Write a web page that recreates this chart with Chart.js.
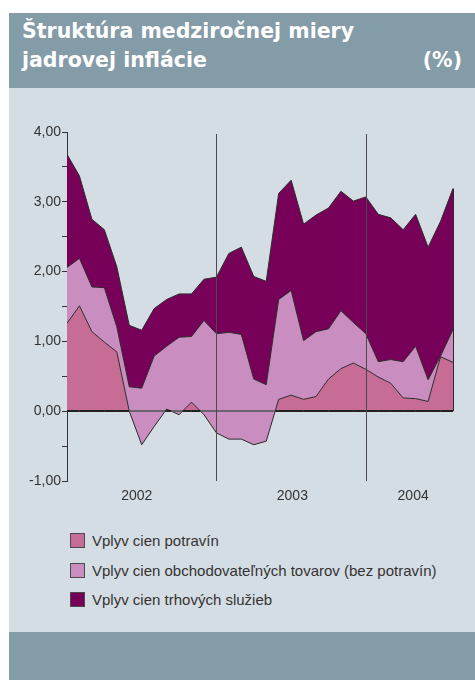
<!DOCTYPE html>
<html>
<head>
<meta charset="utf-8">
<script src="https://cdn.jsdelivr.net/npm/chart.js@4.4.1/dist/chart.umd.min.js"></script>
<style>
html, body { margin: 0; padding: 0; background: #fff; }
#wrap { position: relative; width: 475px; height: 680px; overflow: hidden; }
#head { position: absolute; left: 9px; top: 13px; width: 466px; height: 75px; background: #849BA8; }
#panel { position: absolute; left: 9px; top: 88px; width: 466px; height: 544px; background: #D5DDE4; }
#foot { position: absolute; left: 9px; top: 632px; width: 466px; height: 48px; background: #849BA8; }
.t { position: absolute; color: #fff; font: bold 20.5px "DejaVu Sans"; white-space: nowrap; line-height: 1; }
#box { position: absolute; left: 0; top: 100px; width: 475px; height: 420px; }
.leg { position: absolute; left: 70px; height: 16px; display: flex; align-items: center; font: 15px "Liberation Sans"; color: #333; white-space: nowrap; }
.leg span { display: inline-block; width: 13px; height: 13px; border: 1px solid #4a4a4a; margin-right: 7px; }
</style>
</head>
<body>
<div id="wrap">
  <div id="head"></div>
  <div id="panel"></div>
  <div id="foot"></div>
  <div class="t" style="left:22px;top:21px">Štruktúra medziročnej miery</div>
  <div class="t" style="left:22px;top:50px">jadrovej inflácie</div>
  <div class="t" style="right:13px;top:50px">(%)</div>
  <div id="box"><canvas id="chart" width="475" height="420"></canvas></div>
  <div id="legend"></div>
</div>
<script>
// mesačne 1/2002 - 8/2004
const potraviny = [1.26, 1.51, 1.14, 0.99, 0.85, 0.00, -0.48, -0.22, 0.03, -0.05, 0.13, -0.05,
                   -0.31, -0.40, -0.40, -0.48, -0.43, 0.17, 0.23, 0.17, 0.21, 0.46, 0.61, 0.69,
                   0.60, 0.49, 0.40, 0.19, 0.18, 0.14, 0.78, 0.70];
const obchodovatelne = [0.80, 0.68, 0.64, 0.78, 0.36, 0.35, 0.81, 1.01, 0.90, 1.11, 0.94, 1.35,
                        1.42, 1.53, 1.50, 0.94, 0.81, 1.43, 1.50, 0.84, 0.93, 0.72, 0.83, 0.58,
                        0.51, 0.22, 0.34, 0.52, 0.75, 0.31, 0.01, 0.47];
const sluzby = [1.62, 1.18, 0.97, 0.83, 0.86, 0.88, 0.83, 0.68, 0.67, 0.62, 0.61, 0.59,
                0.81, 1.13, 1.25, 1.47, 1.48, 1.52, 1.58, 1.67, 1.67, 1.73, 1.71, 1.74,
                1.96, 2.11, 2.03, 1.89, 1.89, 1.90, 1.93, 2.02];
const seriesNames = ['Vplyv cien potravín', 'Vplyv cien obchodovateľných tovarov (bez potravín)', 'Vplyv cien trhových služieb'];
const seriesColors = ['#C76C94', '#C98DBF', '#770058'];
const yearLabels = ['2002', '2003', '2004'];
const yearTickPos = [5.6, 18.1, 27.8];
const yearBreaks = [12, 24];

const n = potraviny.length;

// kumulativne hodnoty (ako v Exceli - zaporne hodnoty sa scitavaju tiez)
const lvl1 = potraviny.slice();
const lvl2 = lvl1.map((v, i) => v + obchodovatelne[i]);
const lvl3 = lvl2.map((v, i) => v + sluzby[i]);
const pts = arr => arr.map((v, i) => ({ x: i, y: v }));

// legenda
const legend = document.getElementById('legend');
const legTops = [532, 562, 591];
seriesNames.forEach((name, i) => {
    const row = document.createElement('div');
    row.className = 'leg';
    row.style.top = legTops[i] + 'px';
    row.innerHTML = '<span style="background:' + seriesColors[i] + '"></span>' + name;
    legend.appendChild(row);
});

const extras = {
    id: 'extras',
    afterDatasetsDraw(chart) {
        const { ctx, chartArea, scales: { x, y } } = chart;
        const y0 = Math.round(y.getPixelForValue(0));
        ctx.save();
        // nulova os
        ctx.lineWidth = 2;
        ctx.strokeStyle = '#6b6270';
        ctx.beginPath();
        ctx.moveTo(x.getPixelForValue(0), y0);
        ctx.lineTo(x.getPixelForValue(n - 1), y0);
        ctx.stroke();
        // spodna hrana plochy potravin (kde je kladna)
        ctx.strokeStyle = '#222';
        for (let i = 0; i < n - 1; i++) {
            const a = potraviny[i], b = potraviny[i + 1];
            if (a <= 0 && b <= 0) continue;
            let s = i, e = i + 1;
            if (a < 0) s = i + (-a) / (b - a);
            if (b < 0) e = i + a / (a - b);
            ctx.beginPath();
            ctx.moveTo(x.getPixelForValue(s), y0);
            ctx.lineTo(x.getPixelForValue(e), y0);
            ctx.stroke();
        }
        // hranice rokov
        ctx.lineWidth = 1;
        ctx.strokeStyle = '#4a4a4a';
        yearBreaks.forEach(v => {
            const px = Math.round(x.getPixelForValue(v)) + 0.5;
            ctx.beginPath();
            ctx.moveTo(px, chartArea.top + 2);
            ctx.lineTo(px, chartArea.bottom);
            ctx.stroke();
        });
        // prava hrana plochy
        const xr = Math.round(x.getPixelForValue(n - 1)) + 0.5;
        ctx.strokeStyle = '#2b2b2b';
        ctx.beginPath();
        ctx.moveTo(xr, y.getPixelForValue(Math.min(0, lvl1[n - 1])));
        ctx.lineTo(xr, y.getPixelForValue(lvl3[n - 1]));
        ctx.stroke();
        ctx.restore();
    }
};

const ds = (label, data, fill, color, order) => ({
    label: label,
    data: pts(data),
    fill: fill,
    backgroundColor: color,
    borderColor: '#2b2b2b',
    borderWidth: 1,
    pointRadius: 0,
    tension: 0,
    order: order
});

new Chart(document.getElementById('chart'), {
    type: 'line',
    data: {
        datasets: [
            ds(seriesNames[0], lvl1, 'origin', seriesColors[0], 3),
            ds(seriesNames[1], lvl2, '-1', seriesColors[1], 2),
            ds(seriesNames[2], lvl3, '-1', seriesColors[2], 1)
        ]
    },
    options: {
        responsive: false,
        animation: false,
        devicePixelRatio: 1,
        layout: { padding: { left: 0, right: 22, top: 32, bottom: 0 } },
        plugins: {
            legend: { display: false },
            tooltip: { enabled: false },
            filler: { drawTime: 'beforeDatasetsDraw' }
        },
        scales: {
            x: {
                type: 'linear',
                min: 0,
                max: n - 1,
                afterFit: s => { s.height = 39; },
                afterBuildTicks: axis => { axis.ticks = yearTickPos.map(v => ({ value: v })); },
                grid: { display: false },
                border: { display: false },
                ticks: {
                    autoSkip: false,
                    maxRotation: 0,
                    padding: -1,
                    color: '#333',
                    font: { family: 'Liberation Sans', size: 14 },
                    callback: (v, i) => yearLabels[i]
                }
            },
            y: {
                min: -1,
                max: 4,
                afterFit: s => { s.width = 67; },
                border: { display: true, color: '#333', width: 1 },
                grid: { drawOnChartArea: false, drawTicks: true, tickLength: 5, color: '#333' },
                ticks: {
                    stepSize: 0.5,
                    autoSkip: false,
                    padding: 1,
                    color: '#333',
                    font: { family: 'Liberation Sans', size: 14 },
                    callback: v => Number.isInteger(v) ? v.toFixed(2).replace('.', ',') : ''
                }
            }
        }
    },
    plugins: [extras]
});
</script>
</body>
</html>
